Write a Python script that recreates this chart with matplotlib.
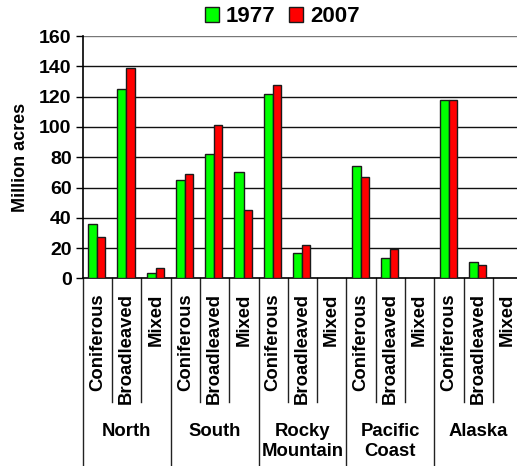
import matplotlib.pyplot as plt
import numpy as np

plt.rcParams['font.family'] = ['Liberation Sans', 'DejaVu Sans']
plt.rcParams['font.weight'] = 'bold'

regions = ['North', 'South', 'Rocky\nMountain', 'Pacific\nCoast', 'Alaska']
forest_types = ['Coniferous', 'Broadleaved', 'Mixed']
acres_1977 = [36, 125, 3.5, 65, 82, 70, 122, 17, np.nan, 74, 13.5, np.nan, 118, 10.5, np.nan]
acres_2007 = [27, 139, 6.5, 69, 101, 45, 128, 22, np.nan, 67, 19.5, np.nan, 118, 9, np.nan]


def main():
    fig = plt.figure(figsize=(5.17, 4.66), dpi=100)
    ax = fig.add_axes([0.16, 0.4028, 0.85, 0.5195])

    x = np.arange(len(acres_1977))
    ax.bar(x - 0.165, acres_1977, width=0.31, color='#00ff00', edgecolor='#1a1a1a',
           linewidth=1, label='1977', zorder=3)
    ax.bar(x + 0.13, acres_2007, width=0.28, color='#ff0000', edgecolor='#1a1a1a',
           linewidth=1, label='2007', zorder=3)

    ax.set_xlim(-0.5, len(x) - 0.5)
    ax.set_ylim(0, 160)
    ax.set_yticks(np.arange(0, 161, 20))
    ax.tick_params(axis='y', labelsize=14, length=5, width=1, pad=3)
    ax.set_xticks([])
    for y in range(20, 161, 20):
        ax.axhline(y, color='#111111' if y < 160 else '#777777', linewidth=1, zorder=1)
    ax.spines['top'].set_visible(False)
    ax.spines['right'].set_visible(False)
    ax.spines['left'].set_linewidth(1.2)
    ax.spines['bottom'].set_linewidth(1.2)
    ax.set_ylabel('Million acres', fontsize=13, fontweight='bold', labelpad=7)

    # category labels and separators under the axis
    tr = ax.get_xaxis_transform()
    for i in range(len(x)):
        ax.text(i, -0.062, forest_types[i % 3], rotation=90, ha='center', va='top',
                fontsize=13.3, fontweight='bold', transform=tr)
    for k in range(len(x) + 1):
        bottom = -0.78 if k % 3 == 0 else -0.511
        ax.plot([k - 0.5, k - 0.5], [0, bottom], color='#222222', linewidth=1,
                transform=tr, clip_on=False)
    for g, name in enumerate(regions):
        ax.text(3 * g + 1, -0.598, name, ha='center', va='top', fontsize=13.3,
                fontweight='bold', linespacing=1.25, transform=tr)

    fig.legend(loc='center', bbox_to_anchor=(282 / 517, 1 - 16.5 / 466), ncol=2,
               frameon=False, fontsize=16, handlelength=0.65, handleheight=0.65,
               handletextpad=0.3, columnspacing=0.6, borderpad=0)

    plt.savefig('out.png', dpi=100)


if __name__ == '__main__':
    main()
